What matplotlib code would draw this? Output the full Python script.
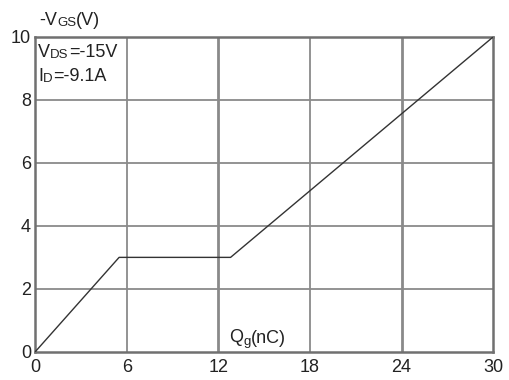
import matplotlib
matplotlib.use("Agg")
from matplotlib import pyplot as plt

plt.rcParams['font.family'] = ['Liberation Sans', 'DejaVu Sans']

# gate charge curve: Qg (nC) vs -VGS (V)
qg = [0, 5.5, 12.8, 30]
vgs = [0, 3, 3, 10]

x_ticks = [0, 6, 12, 18, 24, 30]
y_ticks = [0, 2, 4, 6, 8, 10]

grid_color = '#8a8a8a'
ink = '#222222'


def chain(ax, prev, text, size):
    # place text right after the previous piece, sharing its baseline
    return ax.annotate(text, xy=(1, 0), xycoords=prev, va='bottom', ha='left',
                       fontsize=size, color=ink)


fig = plt.figure(figsize=(5.09, 3.80), dpi=100)
ax = fig.add_axes([0.069, 0.074, 0.900, 0.829])

ax.set_xlim(0, 30)
ax.set_ylim(0, 10)
ax.set_xticks(x_ticks)
ax.set_yticks(y_ticks)
ax.tick_params(length=0, labelsize=13, colors=ink)
ax.tick_params(axis='x', pad=5)
ax.tick_params(axis='y', pad=3)

for x in x_ticks[1:-1]:
    lw = 2.0 if x in (12, 24) else 1.3
    ax.axvline(x, color=grid_color, lw=lw, zorder=1)
for y in y_ticks[1:-1]:
    ax.axhline(y, color=grid_color, lw=1.3, zorder=1)
for s in ax.spines.values():
    s.set_color('#707070')
    s.set_linewidth(1.8)

ax.plot(qg, vgs, color='#333333', lw=1.0, zorder=3)

# axis titles
t = ax.text(0.077, 0.935, '-V', fontsize=13, color=ink,
            transform=fig.transFigure)
t = chain(ax, t, 'GS', 9.5)
t = chain(ax, t, '(V)', 13)

t = ax.text(12.7, 0.3, 'Q', fontsize=13, color=ink)
t = ax.annotate('g', xy=(1, -0.12), xycoords=t, va='bottom', ha='left',
                fontsize=9.5, color=ink)
t = ax.annotate('(nC)', xy=(1, 0.12), xycoords=t, va='bottom', ha='left',
                fontsize=13, color=ink)

# test conditions
t = ax.text(0.2, 9.35, 'V', fontsize=13, color=ink)
t = chain(ax, t, 'DS', 9.5)
t = chain(ax, t, '=-15V', 13)
t = ax.text(0.2, 8.6, 'I', fontsize=13, color=ink)
t = chain(ax, t, 'D', 9.5)
t = chain(ax, t, '=-9.1A', 13)

fig.savefig('out.png', dpi=100)
